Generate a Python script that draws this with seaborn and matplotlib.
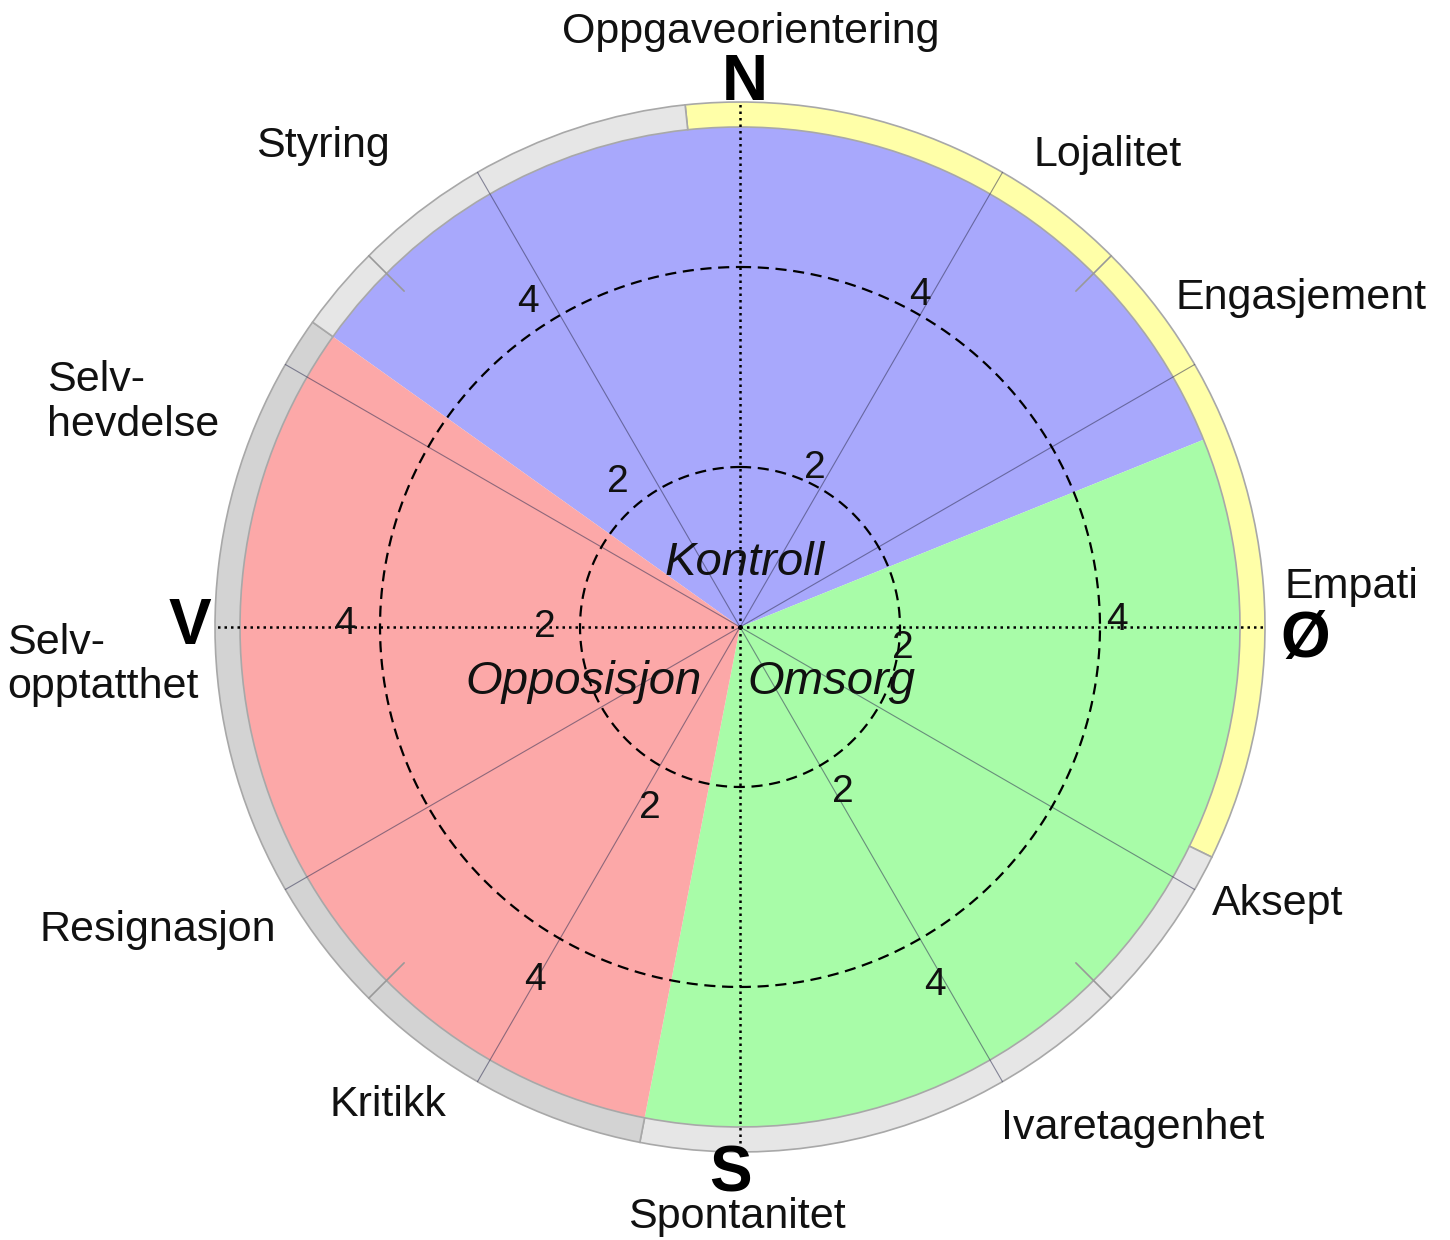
# Kompass-sirkel: tre sektorer med ytre ring og dimensjonsnavn

import numpy as np
import matplotlib
matplotlib.use("Agg")
import matplotlib.pyplot as plt
import seaborn as sns

sns.set_theme(style="white")
plt.rcParams['font.family'] = ['Liberation Sans', 'DejaVu Sans']

# Sectors (compass degrees, clockwise from north)
sector_names = ["Kontroll", "Omsorg", "Opposisjon"]
sector_start = [-54.5, 68, 191]
sector_end = [68, 191, 305.5]
sector_value = [5.4, 5.4, 5.4]
sector_colors = ["#a8a8fc", "#a8fca8", "#fca8a8"]

# Outer ring segments
ring_start = [-6, 116, 191, 305.5]
ring_end = [116, 191, 305.5, 354]
ring_colors = ["#ffffa8", "#e6e6e6", "#d3d3d3", "#e6e6e6"]

# Dimensions, one every 30 degrees
dim_labels = ["Oppgaveorientering", "Lojalitet", "Engasjement", "Empati",
              "Aksept", "Ivaretagenhet", "Spontanitet", "Kritikk",
              "Resignasjon", "Selv-\nopptatthet", "Selv-\nhevdelse", "Styring"]
dim_angles = [0, 30, 60, 90, 120, 150, 180, 210, 240, 270, 300, 330]

compass_letters = ["N", "Ø", "S", "V"]
compass_angles = [0, 90, 180, 270]

circle_levels = [2, 4]
scale_labels = ["4", "4", "4", "4", "4", "4", "2", "2", "2", "2", "2", "2"]

# layout (text placement, angle in deg / radius in data units)
R_MIN = 0.4
RING_IN, RING_OUT = 5.4, 5.65
dim_pos = [(1, 6.35), (37.9, 6.38), (59.6, 6.9), (86.3, 6.53), (117.2, 6.45),
           (141.9, 6.77), (180.3, 6.3), (216.4, 6.34), (242.5, 6.96),
           (266.6, 6.78), (290.3, 6.87), (319.1, 6.77)]
compass_pos = [(0.5, 5.84), (91.3, 6.05), (181, 5.88), (270, 5.9)]
scale_pos = [(326.9, 4.28), (28.5, 4.18), (270.4, 4.35), (89, 4.17),
             (210.1, 4.48), (151.4, 4.48), (319.9, 2.29), (25.3, 2.16),
             (270, 2.35), (97.3, 2.04), (206.4, 2.42), (148, 2.35)]
sector_pos = [(4.5, 1.04), (120.9, 1.47), (250.7, 2.06)]

fig = plt.figure(figsize=(14.5, 12.4), dpi=100)
ax = fig.add_axes([0.14483, 0.06694, 0.73103, 0.85484], projection='polar')
ax.set_theta_zero_location('N')
ax.set_theta_direction(-1)
ax.set_ylim(R_MIN, 5.7)
ax.set_xticks([])
ax.set_yticks([])
ax.grid(False)
ax.spines['polar'].set_visible(False)
ax.set_facecolor('none')

# colored sectors
for s, e, v, c in zip(sector_start, sector_end, sector_value, sector_colors):
    w = np.deg2rad(e - s)
    ax.bar(np.deg2rad(s), v - R_MIN, width=w, bottom=R_MIN, align='edge',
           color=c, edgecolor='none', zorder=1)

# outer ring
for s, e, c in zip(ring_start, ring_end, ring_colors):
    ax.bar(np.deg2rad(s), RING_OUT - RING_IN, width=np.deg2rad(e - s),
           bottom=RING_IN, align='edge', color=c, edgecolor='#a8a8a8',
           linewidth=1.2, zorder=2)

# thin radial lines
for a in dim_angles:
    if a % 90 == 0:
        continue
    t = np.deg2rad(a)
    ax.plot([t, t], [R_MIN, RING_OUT], color='#333355', lw=0.8, alpha=0.55,
            zorder=3)

# short ticks in the ring at the diagonals
for a in [45, 135, 225, 315]:
    t = np.deg2rad(a)
    ax.plot([t, t], [5.15, RING_OUT], color='#999999', lw=1.2, zorder=3)

# dotted axes
for a in compass_angles:
    t = np.deg2rad(a)
    ax.plot([t, t], [R_MIN, RING_OUT], color='black', lw=1.8,
            linestyle=(0, (1, 1.6)), zorder=4)

# dashed circles
theta = np.linspace(0, 2 * np.pi, 500)
for lv in circle_levels:
    ax.plot(theta, np.full_like(theta, lv), color='black', lw=1.6,
            linestyle=(0, (5, 3)), zorder=4)

# scale numbers
for s, (a, r) in zip(scale_labels, scale_pos):
    ax.text(np.deg2rad(a), r, s, ha='center', va='center', fontsize=28,
            color='#111111', zorder=5)

# sector names
for s, (a, r) in zip(sector_names, sector_pos):
    ax.text(np.deg2rad(a), r, s, ha='center', va='center', fontsize=34,
            style='italic', color='#111111', zorder=5)

# dimension names
for s, (a, r) in zip(dim_labels, dim_pos):
    ax.text(np.deg2rad(a), r, s, ha='center', va='center', fontsize=31,
            multialignment='left', linespacing=1.15, color='#111111',
            clip_on=False)

# compass letters
for s, (a, r) in zip(compass_letters, compass_pos):
    ax.text(np.deg2rad(a), r, s, ha='center', va='center', fontsize=46,
            fontweight='bold', color='black', clip_on=False, zorder=6)

fig.savefig("out.png", dpi=100)
